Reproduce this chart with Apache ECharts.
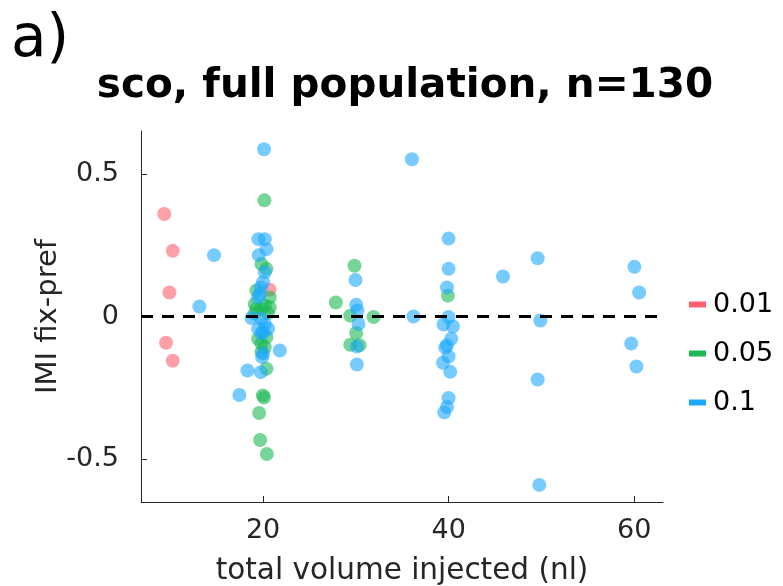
<!DOCTYPE html>
<html>
<head>
<meta charset="utf-8">
<script src="https://cdn.jsdelivr.net/npm/echarts@6/dist/echarts.min.js"></script>
<style>html,body{margin:0;padding:0;background:#fff}#c{width:783px;height:586px}</style>
</head>
<body>
<div id="c"></div>
<script>
const seriesNames = ['0.01', '0.05', '0.1'];
const xTicks = [20, 40, 60];
const yTicks = [-0.5, 0, 0.5];
const yTickLabels = ['-0.5', '0', '0.5'];

const redX = [9.35, 10.26, 9.9, 9.54, 10.26, 20.7];
const redY = [0.359, 0.230, 0.084, -0.092, -0.155, 0.094];

const greenX = [20.14, 19.82, 20.36, 19.28, 20.72, 19.1, 20.18, 20.72, 19.28, 19.82, 19.46, 20.36, 19.82, 20.18, 19.82, 20.36, 19.97, 20.1, 19.57, 19.68, 20.4, 19.1, 20.5,
  29.85, 27.84, 29.39, 31.9, 30.03, 29.39, 30.39, 39.92];
const greenY = [0.407, 0.184, 0.167, 0.091, 0.067, 0.044, 0.038, 0.032, 0.027, 0.027, -0.078, -0.072, -0.095, -0.107, -0.125, -0.183, -0.277, -0.284, -0.338, -0.433, -0.482, 0.010, 0.012,
  0.178, 0.049, 0.003, -0.002, -0.058, -0.099, -0.101, 0.073];

const blueX = [20.1, 19.49, 20.18, 20.36, 19.54, 20.18, 20.0, 19.75, 19.64, 19.46, 18.74, 19.82, 20.18, 20.54, 19.46, 20.0, 19.82, 20.0, 19.89, 21.8, 18.31, 19.75, 17.44, 14.71, 13.13,
  29.96, 30.03, 30.17, 30.28, 30.1, 30.1, 36.04, 36.21,
  39.99, 39.99, 39.82, 39.99, 39.45, 40.46, 40.28, 39.82, 39.63, 39.99, 39.39, 40.17, 39.99, 39.82, 39.53,
  45.86, 49.59, 49.88, 49.59, 49.77, 60.02, 60.53, 59.67, 60.24];
const blueY = [0.586, 0.271, 0.271, 0.236, 0.215, 0.155, 0.120, 0.102, 0.079, 0.067, -0.005, -0.008, -0.026, -0.043, -0.043, -0.055, -0.060, -0.130, -0.142, -0.119, -0.189, -0.195, -0.275, 0.215, 0.035,
  0.128, 0.041, 0.021, -0.026, -0.105, -0.168, 0.551, 0.0,
  0.273, 0.167, 0.102, -0.002, -0.028, -0.035, -0.078, -0.101, -0.109, -0.140, -0.162, -0.194, -0.286, -0.317, -0.336,
  0.140, 0.204, -0.014, -0.221, -0.590, 0.174, 0.084, -0.095, -0.175];

const colors = ['#ff6070', '#1db954', '#1ca8ff'];
const X_MIN = 6.84, X_MAX = 63.1;

function pairs(xs, ys) { return xs.map((x, i) => [x, ys[i]]); }

const FONT = '"DejaVu Sans", sans-serif';
const TXT = '#262626';

const chart = echarts.init(document.getElementById('c'), null, {renderer: 'canvas'});
const scatterStyle = (c) => ({
  type: 'scatter', symbol: 'circle', symbolSize: 14,
  itemStyle: {color: c, opacity: 0.6, borderWidth: 0},
  emphasis: {disabled: true}
});

chart.setOption({
  animation: false,
  backgroundColor: '#fff',
  textStyle: {fontFamily: FONT},
  title: {
    text: 'sco, full population, n=130',
    left: 400, textAlign: 'center', top: 61,
    textStyle: {fontFamily: FONT, fontWeight: 'bold', fontSize: 40.5, color: '#000'}
  },
  graphic: [{
    type: 'text', left: 11, top: 12,
    style: {text: 'a)', font: '58px "DejaVu Sans", sans-serif', fill: '#000'}
  }],
  legend: {
    orient: 'vertical', left: 684, top: 286,
    itemWidth: 17, itemHeight: 6, itemGap: 22,
    icon: 'rect',
    itemStyle: {opacity: 1},
    data: seriesNames,
    textStyle: {fontFamily: FONT, fontSize: 27, color: '#000', padding: [0, 0, 0, 2]}
  },
  grid: {left: 141, top: 131, width: 522, height: 371, containLabel: false, outerBoundsMode: 'none'},
  xAxis: {
    type: 'value', min: X_MIN, max: X_MAX,
    name: 'total volume injected (nl)', nameLocation: 'middle', nameGap: 54,
    nameTextStyle: {fontFamily: FONT, fontSize: 29.5, color: TXT},
    axisLine: {show: true, onZero: false, lineStyle: {color: '#262626', width: 1}},
    axisTick: {show: true, inside: true, length: 6, customValues: xTicks, lineStyle: {color: '#262626'}},
    axisLabel: {customValues: xTicks, fontFamily: FONT, fontSize: 27, color: TXT, margin: 15},
    splitLine: {show: false}
  },
  yAxis: {
    type: 'value', min: -0.65, max: 0.65,
    name: 'IMI fix-pref', nameLocation: 'middle', nameGap: 78, nameRotate: 90, nameMoveOverlap: false,
    nameTextStyle: {fontFamily: FONT, fontSize: 29, color: TXT},
    axisLine: {show: true, onZero: false, lineStyle: {color: '#262626', width: 1}},
    axisTick: {show: true, inside: true, length: 6, customValues: yTicks, lineStyle: {color: '#262626'}},
    axisLabel: {
      customValues: yTicks, fontFamily: FONT, fontSize: 27, color: TXT, margin: 22,
      formatter: (v) => { const i = yTicks.findIndex(t => Math.abs(t - v) < 1e-9); return i >= 0 ? yTickLabels[i] : ''; }
    },
    splitLine: {show: false}
  },
  series: [
    Object.assign({name: seriesNames[0], data: pairs(redX, redY)}, scatterStyle(colors[0])),
    Object.assign({name: seriesNames[1], data: pairs(greenX, greenY)}, scatterStyle(colors[1])),
    Object.assign({name: seriesNames[2], data: pairs(blueX, blueY)}, scatterStyle(colors[2])),
    {
      type: 'line', name: 'zero', data: [[X_MIN, 0], [X_MAX, 0]], symbol: 'none', z: 5,
      lineStyle: {color: '#000', width: 3, type: [12, 9]}, silent: true
    }
  ]
});
</script>
</body>
</html>
